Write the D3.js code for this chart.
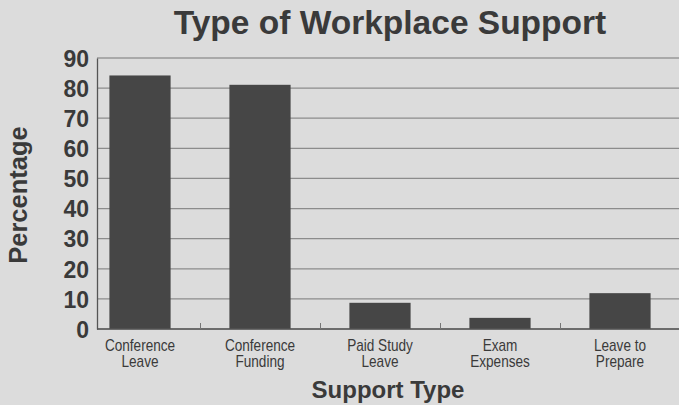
<!DOCTYPE html>
<html><head><meta charset="utf-8">
<script src="https://cdn.jsdelivr.net/npm/d3@7"></script>
<style>body{margin:0;background:#dcdcdc;}svg{display:block}</style>
</head><body>
<script>
const categories = [["Conference","Leave"],["Conference","Funding"],["Paid Study","Leave"],["Exam","Expenses"],["Leave to","Prepare"]];
const values = [84.2, 81.1, 8.7, 3.7, 11.9];
const yTicks = [0,10,20,30,40,50,60,70,80,90];
const title = "Type of Workplace Support";
const xTitle = "Support Type";
const yTitle = "Percentage";

const W = 679, H = 405;
const svg = d3.select("body").append("svg").attr("width", W).attr("height", H);
svg.append("rect").attr("width", W).attr("height", H).attr("fill", "#dcdcdc");

const axisX = 97;
const x = d3.scaleBand().domain(d3.range(categories.length)).range([80, 680]).paddingInner(0.49).paddingOuter(0.245);
const y = d3.scaleLinear().domain([0, 90]).range([329, 58]);

// gridlines
const grid = svg.append("g");
yTicks.forEach(t => {
  grid.append("line").attr("x1", axisX).attr("x2", W).attr("y1", y(t)).attr("y2", y(t))
    .attr("stroke", t === 90 ? "#777" : "#8c8c8c").attr("stroke-width", 1.2);
});

// bars
svg.append("g").selectAll("rect").data(values).join("rect")
  .attr("x", (d, i) => x(i)).attr("width", x.bandwidth())
  .attr("y", d => y(d)).attr("height", d => y(0) - y(d))
  .attr("fill", "#464646");

// y axis
const yAxis = d3.axisLeft(y).tickValues(yTicks).tickSize(0).tickPadding(8);
const gy = svg.append("g").attr("transform", `translate(${axisX},0)`).call(yAxis);
gy.select(".domain").attr("stroke", "#555").attr("stroke-width", 1.3);
gy.selectAll("text").attr("font-family", "Liberation Sans, Arial, sans-serif").attr("font-weight", "bold")
  .attr("font-size", 23).attr("fill", "#3a3a3a").attr("dy", "0.36em");

// x axis
const xb = d3.scaleLinear().domain([0, 5]).range([80, 680]);
const xAxis = d3.axisBottom(xb).tickValues([1,2,3,4]).tickSize(-6).tickFormat("");
const gx = svg.append("g").attr("transform", `translate(0,${y(0)})`).call(xAxis);
gx.select(".domain").attr("d", `M${axisX},0H${W}`).attr("stroke", "#555").attr("stroke-width", 1.3);
gx.selectAll(".tick line").attr("stroke", "#777");

// x category labels (condensed)
const lab = svg.append("g");
categories.forEach((c, i) => {
  const cx = x(i) + x.bandwidth() / 2;
  const g = lab.append("g").attr("transform", `translate(${cx},0) scale(0.85,1)`);
  c.forEach((line, j) => g.append("text").attr("x", 0).attr("y", 351 + j * 16)
    .attr("text-anchor", "middle").attr("font-family", "Liberation Sans, Arial, sans-serif")
    .attr("font-size", 16).attr("fill", "#3a3a3a").text(line));
});

// titles
svg.append("text").attr("x", 390).attr("y", 34).attr("text-anchor", "middle")
  .attr("font-family", "Liberation Sans, Arial, sans-serif").attr("font-weight", "bold")
  .attr("font-size", 33.5).attr("fill", "#3a3a3a").text(title);
svg.append("text").attr("x", 388).attr("y", 398).attr("text-anchor", "middle")
  .attr("font-family", "Liberation Sans, Arial, sans-serif").attr("font-weight", "bold")
  .attr("font-size", 24).attr("fill", "#3a3a3a").text(xTitle);
svg.append("text").attr("transform", "translate(27,195) rotate(-90)").attr("text-anchor", "middle")
  .attr("font-family", "Liberation Sans, Arial, sans-serif").attr("font-weight", "bold")
  .attr("font-size", 25.5).attr("fill", "#3a3a3a").text(yTitle);
</script>
</body></html>
